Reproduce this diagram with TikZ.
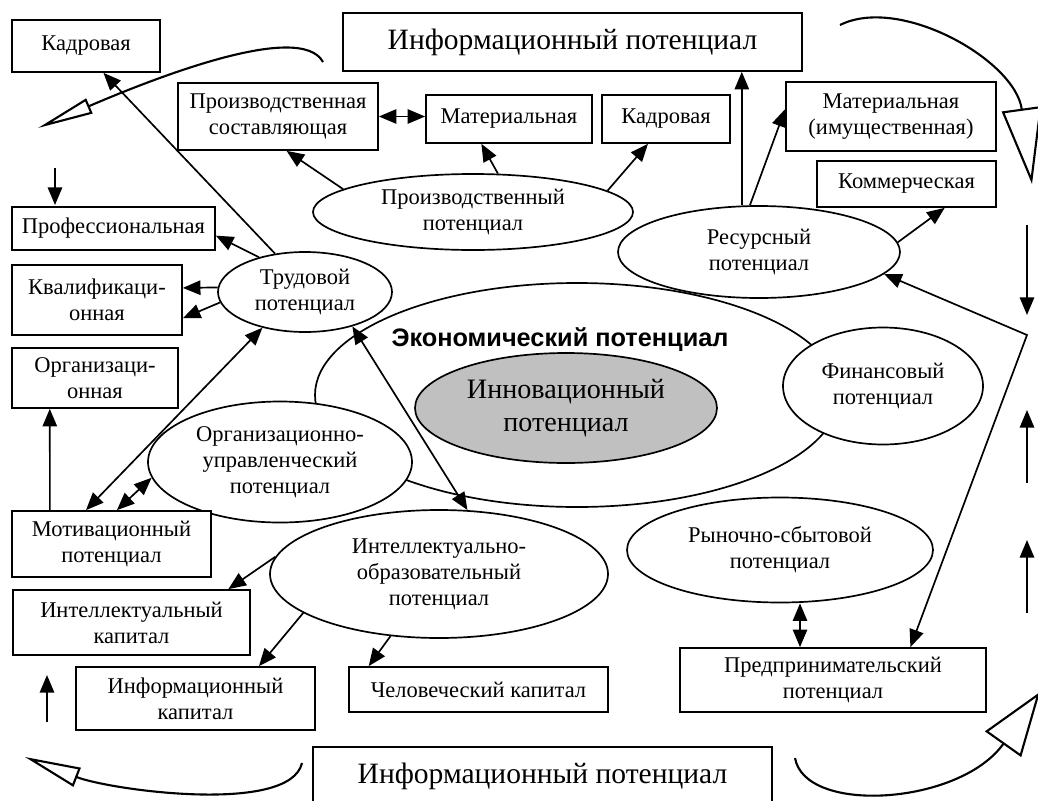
\documentclass[tikz,border=0pt]{standalone}
\usepackage{fontspec}
\setmainfont{Liberation Serif}
\newfontfamily\econfont{Liberation Sans}
\usetikzlibrary{arrows.meta,shapes.geometric}
\definecolor{innovgray}{HTML}{C0C0C0}

\begin{document}
\begin{tikzpicture}[
    every node/.style={font=\fontsize{16}{18.5}\selectfont},
    box/.style={rectangle, draw, line width=1.2pt, fill=white, align=center, inner sep=0pt},
    oval/.style={ellipse, draw, line width=1.2pt, fill=white, align=center, inner sep=0pt},
    big/.style={font=\fontsize{21}{24}\selectfont},
    arr/.style={-{Triangle[length=4.4mm,width=3.6mm]}, line width=1.2pt},
    biarr/.style={{Triangle[length=4.4mm,width=3.6mm]}-{Triangle[length=4.4mm,width=3.6mm]}, line width=1.2pt},
    cyc/.style={line width=1.5pt},
]
\useasboundingbox (0,0) rectangle (25.95,-20);

% Central ellipses
\node[ellipse, draw, line width=1.2pt, minimum width=13.1cm, minimum height=5.6cm] (econ) at (14.425,-9.875) {};
\node[font=\econfont\bfseries\fontsize{18}{20}\selectfont] (econLbl) at (14.0,-8.5) {Экономический потенциал};
\node[oval, fill=innovgray, minimum width=7.55cm, minimum height=2.75cm,
    font=\fontsize{20}{23}\selectfont] (innov) at (14.15,-10.2) {Инновационный\\потенциал};

% Surrounding potentials
\node[oval, minimum width=8cm, minimum height=1.9cm] (prod) at (11.825,-5.3) {Производственный\\потенциал};
\node[oval, minimum width=4.35cm, minimum height=2cm] (trud) at (7.625,-7.3) {Трудовой\\потенциал};
\node[oval, minimum width=7.05cm, minimum height=2.3cm] (res) at (18.975,-6.3) {Ресурсный\\потенциал};
\node[oval, minimum width=6.6cm, minimum height=3.025cm] (orgUpr) at (7.0,-11.55) {Организационно-\\управленческий\\потенциал};
\node[oval, minimum width=5cm, minimum height=2.925cm] (fin) at (22.075,-9.65) {Финансовый\\потенциал};
\node[oval, minimum width=7.65cm, minimum height=2.625cm] (rynok) at (19.5,-13.75) {Рыночно-сбытовой\\потенциал};
\node[oval, minimum width=8.45cm, minimum height=3.2cm] (intel) at (10.975,-14.35) {Интеллектуально-\\образовательный\\потенциал};

% Boxes
\node[box, big, minimum width=11.475cm, minimum height=1.45cm] (infoTop) at (14.3125,-1.05) {Информационный потенциал};
\node[box, big, minimum width=11.475cm, minimum height=1.45cm] (infoBot) at (13.5625,-19.4) {Информационный потенциал};
\node[box, minimum width=3.7cm, minimum height=1.3cm] (kadrA) at (2.15,-1.15) {Кадровая};
\node[box, minimum width=5cm, minimum height=1.675cm] (prodSost) at (6.95,-2.9125) {Производственная\\составляющая};
\node[box, minimum width=4.15cm, minimum height=1.2cm] (mater) at (12.725,-2.975) {Материальная};
\node[box, minimum width=3.2cm, minimum height=1.2cm] (kadrB) at (16.65,-2.975) {Кадровая};
\node[box, minimum width=5.25cm, minimum height=1.725cm] (materIm) at (22.275,-2.9125) {Материальная\\(имущественная)};
\node[box, minimum width=4.475cm, minimum height=1.15cm] (komm) at (22.6625,-4.6) {Коммерческая};
\node[box, minimum width=5.075cm, minimum height=1.075cm] (prof) at (2.8375,-5.7125) {Профессиональная};
\node[box, minimum width=4.25cm, minimum height=1.75cm] (kval) at (2.425,-7.5) {Квалификаци-\\онная};
\node[box, minimum width=4.15cm, minimum height=1.5cm] (orgn) at (2.375,-9.45) {Организаци-\\онная};
\node[box, minimum width=4.975cm, minimum height=1.65cm] (motiv) at (2.7875,-13.6) {Мотивационный\\потенциал};
\node[box, minimum width=5.925cm, minimum height=1.625cm] (intKap) at (3.2875,-15.5625) {Интеллектуальный\\капитал};
\node[box, minimum width=5.975cm, minimum height=1.575cm] (infKap) at (4.8875,-17.4625) {Информационный\\капитал};
\node[box, minimum width=6.475cm, minimum height=1.125cm] (chel) at (11.9625,-17.2375) {Человеческий капитал};
\node[box, minimum width=7.65cm, minimum height=1.6cm] (pred) at (20.825,-17.0) {Предпринимательский\\потенциал};

% Labour links
\draw[arr] (trud.128) -- (kadrA.-57);
\draw[arr] (trud.143) -- (prof.-4);
\draw[arr] (trud.177) -- (kval.8);
\draw[arr] (trud.187) -- (kval.-12);
\draw[biarr] (trud.220) -- (motiv.127);
\draw[biarr] (orgUpr.187) -- (motiv.81);
\draw[arr] ([xshift=-1.54cm]motiv.north) -- ([xshift=-1.13cm]orgn.south);
\draw[biarr] (trud.-36) -- (intel.66);

% Production links
\draw[arr] (prod.170) -- (prodSost.-76);
\draw[arr] (prod.57) -- (mater.222);
\draw[arr] (prod.9) -- (kadrB.234);
\draw[biarr] (prodSost.east) -- (prodSost.east -| mater.west);

% Resource links
\draw[arr] ([xshift=-0.43cm]res.north) -- ([xshift=-0.43cm]res.north |- infoTop.south);
\draw[arr] (res.101) -- (materIm.176);
\draw[arr] (res.4) -- (komm.-32);
\coordinate (turn) at (25.675,-8.375);
\draw[biarr] (res.-10) -- (turn) -- (pred.23);
\draw[biarr] ([xshift=0.5cm]rynok.south) -- ([xshift=0.5cm]rynok.south |- pred.north);

% Intellectual links
\draw[arr] (intel.174) -- (intKap.19);
\draw[arr] (intel.196) -- (infKap.27);
\draw[arr] (intel.232) -- (chel.168);

% Information flow round the edge
\draw[cyc, -{Triangle[open,length=1.4cm,width=0.4cm]}] (8.075,-1.55) .. controls (7.5,-0.5) and (3.75,-2.0) .. (0.95,-3.2);
\draw[cyc, -{Triangle[open,length=1.9cm,width=1cm]}] (21.0,-0.625) .. controls (22.5,0.125) and (25.375,-1.5) .. (25.8,-4.6);
\draw[cyc, -{Triangle[open,length=1.6cm,width=1.1cm]}] (19.875,-18.95) .. controls (20.125,-20.375) and (24.0,-20.125) .. (26.0,-17.3);
\draw[cyc, -{Triangle[open,length=1.4cm,width=0.5cm]}] (7.55,-19.075) .. controls (7.25,-20.375) and (2.75,-19.75) .. (0.625,-18.925);
\draw[arr] (25.675,-5.625) -- (25.675,-7.875);
\draw[arr] (25.675,-12.075) -- (25.675,-10.25);
\draw[arr] (25.675,-15.325) -- (25.675,-13.5);
\draw[arr] (1.175,-18.05) -- (1.175,-16.875);
\draw[arr] (1.375,-4.2) -- (1.375,-5.125);
\end{tikzpicture}
\end{document}
